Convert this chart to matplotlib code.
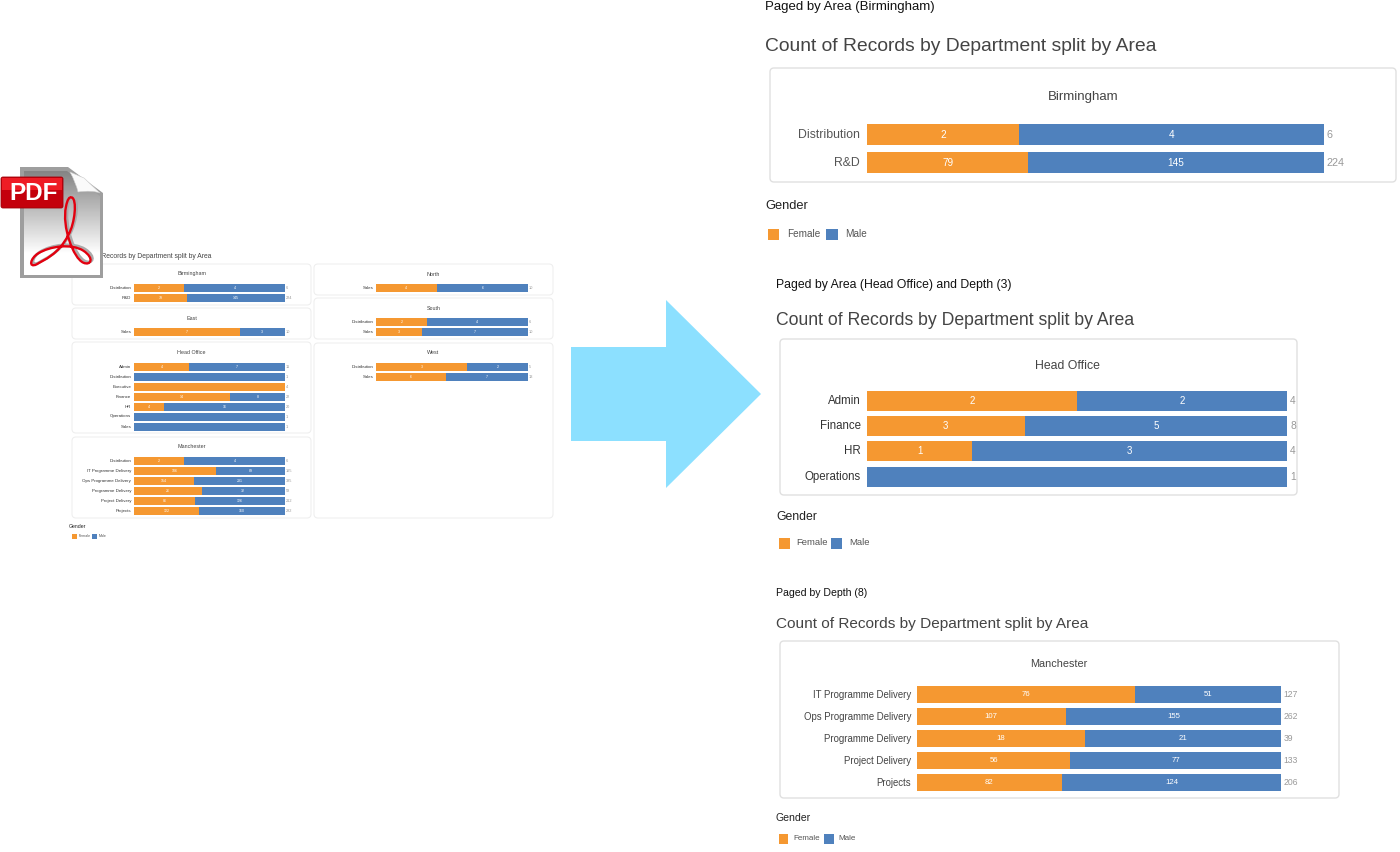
import numpy as np
import matplotlib
matplotlib.use("Agg")
import matplotlib.pyplot as plt
from matplotlib.patches import FancyBboxPatch, Polygon, Rectangle, PathPatch
from matplotlib.path import Path
from matplotlib.transforms import Affine2D

plt.rcParams['font.family'] = ['Liberation Sans', 'DejaVu Sans']

W, H = 1400, 852
ORANGE = "#F59831"
BLUE = "#4F81BD"

birmingham_depts = ["Distribution", "R&D"]
birmingham_female = [2, 79]
birmingham_male = [4, 145]

east_depts = ["Sales"]
east_female = [7]
east_male = [3]

head_depts = ["Admin", "Distribution", "Executive", "Finance", "HR", "Operations", "Sales"]
head_female = [4, 0, 4, 14, 4, 0, 0]
head_male = [7, 1, 0, 8, 16, 1, 1]

man_depts = ["Distribution", "IT Programme Delivery", "Ops Programme Delivery",
             "Programme Delivery", "Project Delivery", "Projects"]
man_female = [2, 106, 154, 26, 86, 122]
man_male = [4, 89, 231, 32, 126, 160]

north_depts = ["Sales"]
north_female = [4]
north_male = [6]

south_depts = ["Distribution", "Sales"]
south_female = [2, 3]
south_male = [4, 7]

west_depts = ["Distribution", "Sales"]
west_female = [3, 6]
west_male = [2, 7]

page_head_depts = ["Admin", "Finance", "HR", "Operations"]
page_head_female = [2, 3, 1, 0]
page_head_male = [2, 5, 3, 1]

page_man_depts = ["IT Programme Delivery", "Ops Programme Delivery", "Programme Delivery",
                  "Project Delivery", "Projects"]
page_man_female = [76, 107, 18, 56, 82]
page_man_male = [51, 155, 21, 77, 124]

fig = plt.figure(figsize=(14, 8.52), dpi=100)
# overlay in pixel coords for page furniture (boxes, headings, icon, arrow)
page = fig.add_axes([0, 0, 1, 1])
page.set_xlim(0, W)
page.set_ylim(H, 0)
page.axis("off")


def sketch_panel(box, title, title_xy, depts, female, male, bar_x, bar_top, bar_h, step,
                 fs_label, fs_value, fs_total, fs_title, gap_label, gap_total,
                 label_color="#555555", edge="#E0E0E0", edge_w=1.0):
    x0, y0, x1, y1 = box
    page.add_patch(FancyBboxPatch((x0 + 3, y0 + 3), x1 - x0 - 6, y1 - y0 - 6,
                                  boxstyle="round,pad=3,rounding_size=4",
                                  fc="white", ec=edge, lw=edge_w, zorder=1))
    page.text(title_xy[0], title_xy[1], title, ha="center", va="center",
              fontsize=fs_title, color="#444444")

    n = len(depts)
    left, right = bar_x
    top = bar_top - (step - bar_h) / 2
    bottom = top + step * n
    ax = fig.add_axes([left / W, 1 - bottom / H, (right - left) / W, (bottom - top) / H])
    ax.patch.set_alpha(0)
    fem = np.array(female, dtype=float)
    mal = np.array(male, dtype=float)
    total = fem + mal
    ypos = np.arange(n)
    ax.barh(ypos, fem / total, height=bar_h / step, color=ORANGE, lw=0)
    ax.barh(ypos, mal / total, left=fem / total, height=bar_h / step, color=BLUE, lw=0)
    ax.set_xlim(0, 1)
    ax.set_ylim(n - 0.5, -0.5)
    ax.axis("off")
    for i in range(n):
        f_share = fem[i] / total[i]
        if fem[i] > 0 and mal[i] > 0:
            ax.text(f_share / 2, i, f"{int(fem[i])}", ha="center", va="center",
                    color="white", fontsize=fs_value)
            ax.text(f_share + (1 - f_share) / 2, i, f"{int(mal[i])}", ha="center", va="center",
                    color="white", fontsize=fs_value)
        ax.annotate(f"{int(total[i])}", (1, i), xytext=(gap_total, 0),
                    textcoords="offset points", ha="left", va="center",
                    color="#999999", fontsize=fs_total)
        ax.annotate(depts[i], (0, i), xytext=(-gap_label, 0),
                    textcoords="offset points", ha="right", va="center",
                    color=label_color, fontsize=fs_label)


def sketch_legend(x, y_head, y_swatch, size, gap_text, male_x, fs_head, fs_item):
    page.text(x, y_head, "Gender", ha="left", va="center", fontsize=fs_head, color="#222222")
    page.add_patch(Rectangle((x + 2.5, y_swatch - size / 2), size, size, fc=ORANGE, lw=0))
    page.text(x + 2.5 + size + gap_text, y_swatch - 0.5, "Female", ha="left", va="center",
              fontsize=fs_item, color="#555555")
    page.add_patch(Rectangle((male_x, y_swatch - size / 2), size, size, fc=BLUE, lw=0))
    page.text(male_x + size + gap_text, y_swatch - 0.5, "Male", ha="left", va="center",
              fontsize=fs_item, color="#555555")


# --- small report page on the left ---
page.text(212, 256.5, "Count of Records by Department split by Area", ha="right", va="center",
          fontsize=4.9, color="#444444")
small = dict(fs_label=3.2, fs_value=2.6, fs_total=2.8, fs_title=3.9, gap_label=2, gap_total=0.8,
             label_color="#333333", edge="#EFEFEF", edge_w=0.8)
sketch_panel((72, 264, 311, 305), "Birmingham", (191.5, 274), birmingham_depts, birmingham_female,
             birmingham_male, (134, 285), 284, 8, 10, **small)
sketch_panel((72, 308, 311, 339), "East", (191.5, 318), east_depts, east_female, east_male,
             (134, 285), 328, 8, 10, **small)
sketch_panel((72, 342, 311, 433), "Head Office", (191.5, 352.5), head_depts, head_female, head_male,
             (134, 285), 362.5, 8, 10, **small)
sketch_panel((72, 437, 311, 518), "Manchester", (191.5, 446.5), man_depts, man_female, man_male,
             (134, 285), 457, 8, 10, **small)
sketch_panel((314, 264, 553, 295), "North", (433.5, 274), north_depts, north_female, north_male,
             (376, 528), 284, 8, 10, **small)
sketch_panel((314, 298, 553, 339), "South", (433.5, 308), south_depts, south_female, south_male,
             (376, 528), 318, 8, 10, **small)
sketch_panel((314, 343, 553, 518), "West", (433.5, 352.5), west_depts, west_female, west_male,
             (376, 528), 363, 8, 10, **small)
sketch_legend(69, 526, 536.5, 5, 2, 92, 3.7, 2.6)

# --- paged excerpts on the right ---
page.text(765, 7, "Paged by Area (Birmingham)", ha="left", va="center", fontsize=9.5, color="#111111")
page.text(765, 46.5, "Count of Records by Department split by Area", ha="left", va="center",
          fontsize=13.9, color="#444444")
sketch_panel((770, 68, 1396, 182), "Birmingham", (1083, 97), birmingham_depts, birmingham_female,
             birmingham_male, (867, 1324), 124.3, 21, 28, fs_label=8.8, fs_value=7.2, fs_total=7.8,
             fs_title=9.5, gap_label=5, gap_total=2.0)
sketch_legend(765, 206, 234.5, 11.5, 8, 826, 9.3, 7.2)

page.text(776, 285, "Paged by Area (Head Office) and Depth (3)", ha="left", va="center",
          fontsize=8.8, color="#111111")
page.text(776, 320.5, "Count of Records by Department split by Area", ha="left", va="center",
          fontsize=12.7, color="#444444")
sketch_panel((780, 339, 1297, 495), "Head Office", (1067, 366), page_head_depts, page_head_female,
             page_head_male, (867, 1287), 391, 20, 25.2, fs_label=8.3, fs_value=7.0, fs_total=7.4,
             fs_title=8.8, gap_label=4.5, gap_total=2.2, label_color="#333333")
sketch_legend(776, 517, 543, 11, 7, 831, 8.8, 6.8)

page.text(776, 593, "Paged by Depth (8)", ha="left", va="center", fontsize=7.6, color="#111111")
page.text(776, 624, "Count of Records by Department split by Area", ha="left", va="center",
          fontsize=11.1, color="#444444")
sketch_panel((780, 641, 1339, 798), "Manchester", (1059, 664), page_man_depts, page_man_female,
             page_man_male, (917, 1281), 686, 17, 22, fs_label=6.9, fs_value=5.6, fs_total=6.2,
             fs_title=7.8, gap_label=4.3, gap_total=1.8, label_color="#444444")
sketch_legend(776, 818, 839, 9.5, 5, 824, 7.6, 5.8)

# --- arrow between the two halves ---
page.add_patch(Polygon([(571, 347), (666, 347), (666, 300), (761, 394), (666, 488),
                        (666, 441), (571, 441)], closed=True, fc="#8CE0FF", lw=0))

# --- pdf icon, drawn over the small report heading ---
page.add_patch(Polygon([(20, 167), (68, 167), (103, 193), (103, 278), (20, 278)],
                       closed=True, fc="#9E9E9E", lw=0, zorder=4))
inner = Polygon([(24, 171), (67, 171), (100, 196), (100, 275), (24, 275)],
                closed=True, fc="none", lw=0, zorder=4)
page.add_patch(inner)
grad = np.clip(np.linspace(0.52, 1.12, 64), 0, 1).reshape(-1, 1)
im = page.imshow(grad, cmap="gray", vmin=0, vmax=1, extent=(24, 100, 275, 171), aspect="auto", zorder=5)
im.set_clip_path(inner)
page.set_xlim(0, W)
page.set_ylim(H, 0)
page.add_patch(PathPatch(Path([(70, 172), (84, 178), (100, 193), (92, 190), (78, 192), (76, 183), (70, 172)],
                              [Path.MOVETO, Path.LINETO, Path.LINETO, Path.CURVE3, Path.CURVE3,
                               Path.CURVE3, Path.CURVE3]),
                         fc="#FAFAFA", ec="#CCCCCC", lw=0.4, zorder=6))

logo_zoom = [(215, 112), (232, 118), (225, 190), (205, 225), (175, 285), (130, 300), (110, 313),
             (85, 325), (90, 295), (115, 280), (150, 258), (215, 250), (250, 272),
             (285, 295), (272, 318), (250, 308), (220, 295), (185, 200), (198, 140),
             (202, 118), (208, 110), (215, 112)]
logo = [(px / 3, 160 + py / 3) for px, py in logo_zoom]
logo_codes = [Path.MOVETO] + [Path.CURVE4] * 21
page.add_patch(PathPatch(Path(logo, logo_codes), fc="none", ec="#ABABAB", lw=2.0, zorder=6,
                         transform=Affine2D().translate(1.8, -1.5) + page.transData))
page.add_patch(PathPatch(Path(logo, logo_codes), fc="none", ec="#E2000F", lw=1.7, zorder=7))
page.add_patch(FancyBboxPatch((2, 178), 60, 29, boxstyle="round,pad=1,rounding_size=2",
                              fc="#C4000C", ec="#A00008", lw=0.6, zorder=8))
page.add_patch(Rectangle((2, 178), 60, 12, fc="#EE1C25", lw=0, zorder=8))
page.text(33.5, 193.5, "PDF", ha="center", va="center", color="white", fontsize=17.5,
          fontweight="bold", zorder=9)

fig.savefig("out.png", dpi=100)
